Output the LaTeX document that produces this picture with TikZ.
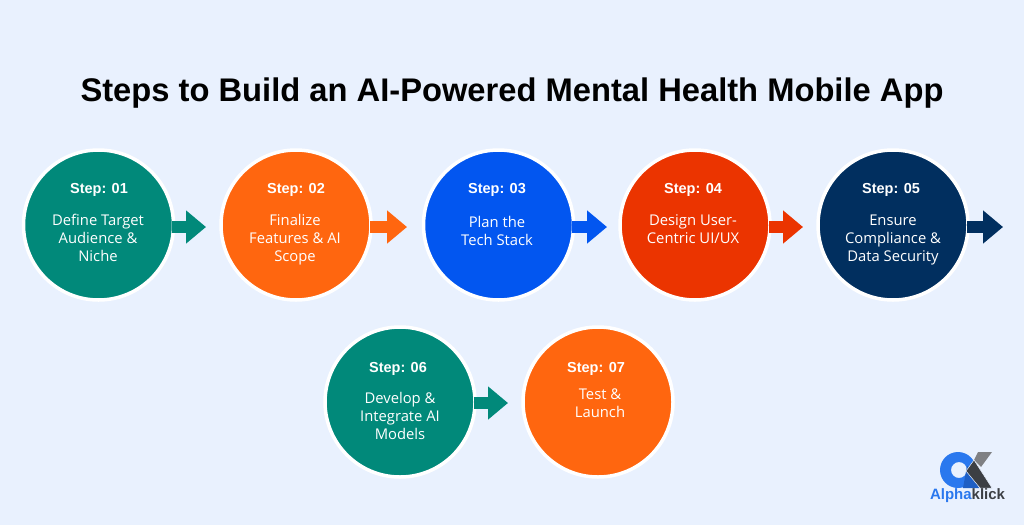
\documentclass[tikz,border=0pt]{standalone}
\usepackage{fontspec}
\setmainfont{Liberation Sans}
\newfontfamily\bodyfont{Open Sans}
\usetikzlibrary{
    arrows.meta            % Arrow tips
}
\definecolor{pagebg}{HTML}{E9F1FE}
\definecolor{stepteal}{HTML}{01897A}
\definecolor{steporange}{HTML}{FF660F}
\definecolor{stepblue}{HTML}{0256F0}
\definecolor{stepred}{HTML}{EB3400}
\definecolor{stepnavy}{HTML}{012F5F}
\definecolor{logoblue}{HTML}{2A78EE}
\definecolor{logodeep}{HTML}{1F5FC4}
\definecolor{logodark}{HTML}{3C3F44}
\definecolor{logogray}{HTML}{7F8083}
\tikzset{
    stepcircle/.style={circle,draw=white,line width=3.5pt,minimum size=150pt,inner sep=0pt},
    steplabel/.style={text=white,font=\fontsize{14.5}{17}\selectfont\bfseries},
    stepbody/.style={text=white,font=\bodyfont\fontsize{14.8}{18}\selectfont,align=center},
    steparrow/.style={line width=12pt,-{Triangle[length=20pt,width=32pt]},shorten <=-3pt}
}
\begin{document}
\begin{tikzpicture}[x=1pt,y=-1pt]
    \path[fill=pagebg,use as bounding box] (0,0) rectangle (1024,525);
    \node[font=\fontsize{32.7}{38}\selectfont\bfseries] (title) at (512,93) {Steps to Build an AI-Powered Mental Health Mobile App};
    % first row
    \node[stepcircle,fill=stepteal] (c1) at (98.5,225) {};
    \node[stepcircle,fill=steporange] (c2) at (296,225) {};
    \node[stepcircle,fill=stepblue] (c3) at (498.5,225) {};
    \node[stepcircle,fill=stepred] (c4) at (695,225) {};
    \node[stepcircle,fill=stepnavy] (c5) at (893,225) {};
    % second row
    \node[stepcircle,fill=stepteal] (c6) at (400,402) {};
    \node[stepcircle,fill=steporange] (c7) at (598,402) {};
    \node[steplabel] (s1) at (99,190) {Step: 01};
    \node[steplabel] (s2) at (296,190) {Step: 02};
    \node[steplabel] (s3) at (497,190) {Step: 03};
    \node[steplabel] (s4) at (693,190) {Step: 04};
    \node[steplabel] (s5) at (891,190) {Step: 05};
    \node[steplabel] (s6) at (398,369) {Step: 06};
    \node[steplabel] (s7) at (596,369) {Step: 07};
    \node[stepbody] (t1) at (98,238) {Define Target\\Audience \&\\Niche};
    \node[stepbody] (t2) at (295,240) {Finalize\\Features \& AI\\Scope};
    \node[stepbody] (t3) at (497,231) {Plan the\\Tech Stack};
    \node[stepbody] (t4) at (693,229) {Design User-\\Centric UI/UX};
    \node[stepbody] (t5) at (893,240) {Ensure\\Compliance \&\\Data Security};
    \node[stepbody] (t6) at (400,416) {Develop \&\\Integrate AI\\Models};
    \node[stepbody] (t7) at (600,403) {Test \&\\Launch};
    % arrows, free ends
    \coordinate (e1) at (206,227);
    \coordinate (e2) at (407,227);
    \coordinate (e3) at (607,227);
    \coordinate (e4) at (803,227);
    \coordinate (e5) at (1003,227);
    \coordinate (e6) at (508,403);
    \draw[steparrow,stepteal] (c1.east |- e1) -- (e1);
    \draw[steparrow,steporange] (c2.east |- e2) -- (e2);
    \draw[steparrow,stepblue] (c3.east |- e3) -- (e3);
    \draw[steparrow,stepred] (c4.east |- e4) -- (e4);
    \draw[steparrow,stepnavy] (c5.east |- e5) -- (e5);
    \draw[steparrow,stepteal] (c6.east |- e6) -- (e6);
    % logo
    \fill[logoblue,even odd rule] (958,470) circle (18pt) (959,470) circle (8pt);
    \fill[logodeep] (967,466) -- (973,472) -- (979,488) -- (963,488) -- cycle;
    \fill[logogray] (978,452) -- (992,452) -- (981,467) -- (974,460) -- cycle;
    \fill[logodark,draw=pagebg,line width=0.5pt] (974,460) -- (992,488) -- (980,488) -- (966,471) -- cycle;
    \node[font=\fontsize{15}{16}\selectfont\bfseries,inner sep=0pt] (logotext) at (967.5,496) {\textcolor{logoblue}{Alpha}\textcolor{logodark}{klick}};
\end{tikzpicture}
\end{document}
